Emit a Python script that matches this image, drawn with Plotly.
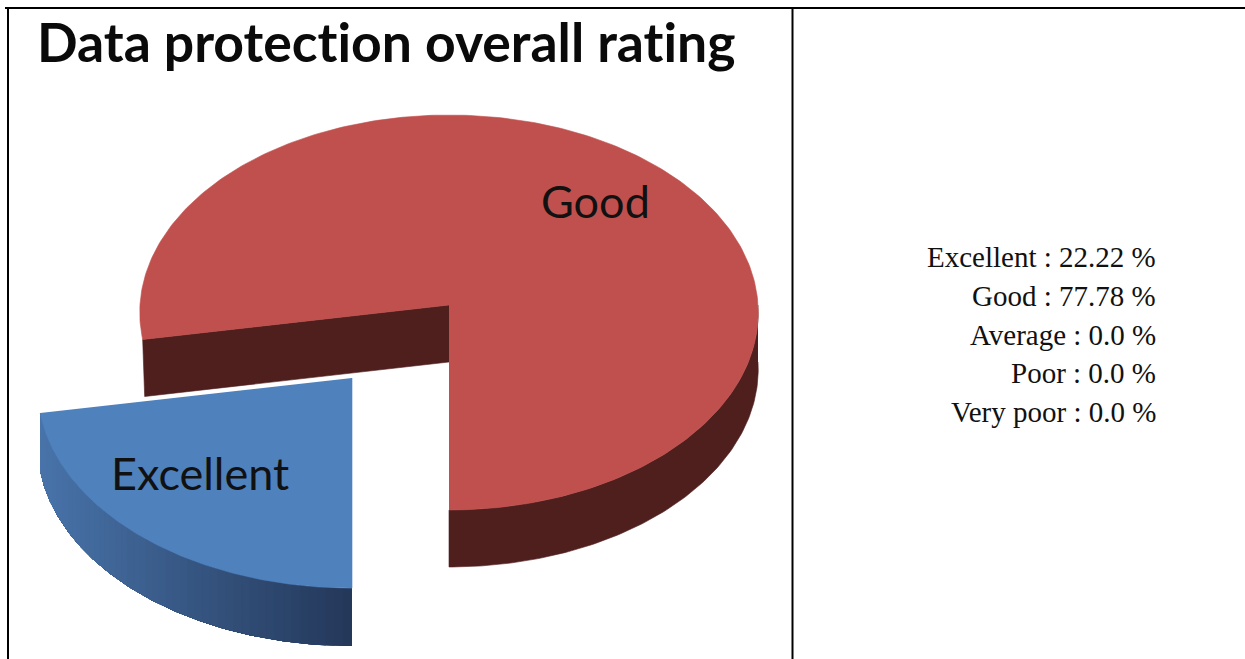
import numpy as np
import plotly.graph_objects as go

# ---- data ----
categories = ["Excellent", "Good", "Average", "Poor", "Very poor"]
percentages = [22.22, 77.78, 0.0, 0.0, 0.0]
title_text = "Data protection overall rating"

W, H = 1245, 659
START_DEG = 180.0            # Excellent starts at six o'clock, clockwise


def rim(theta_deg, apex, r_x, r_y, k):
    """Circle rim seen in slight perspective, measured from the slice apex."""
    t = np.radians(theta_deg)
    w = 1 + k * np.cos(t)
    return apex[0] + r_x * np.sin(t) / w, apex[1] - r_y * np.cos(t) / w


def poly(fig, x, y, color, lw=0.6):
    fig.add_trace(go.Scatter(x=list(x), y=list(y), mode="lines", fill="toself",
                             fillcolor=color, line=dict(color=color, width=lw),
                             hoverinfo="skip", showlegend=False))


def mix(a, b, f):
    return "rgb(%d,%d,%d)" % tuple(round(a[i] + (b[i] - a[i]) * f) for i in range(3))


fig = go.Figure()

span_exc = percentages[0] * 3.6
a0 = START_DEG
a1 = START_DEG + span_exc

# ---- Good slice ----
RAPEX = (449, 305); RX = 309; RY = 197.2; RK = 0.038; DEPTH = 57
red_top, red_dark = "#c0504d", "#4f1f1e"
x, y = rim(np.linspace(a1, 360 + a0, 300), RAPEX, RX, RY, RK)
# outer wall (front-right part)
fx, fy = rim(np.linspace(90, 180, 120), RAPEX, RX, RY, RK)
poly(fig, np.r_[fx, fx[::-1]], np.r_[fy, fy[::-1] + DEPTH], red_dark)
# inner wall of the cut
lx, ly = rim(np.array([a1]), RAPEX, RX, RY, RK)
poly(fig, [RAPEX[0], lx[0], lx[0] + 2, RAPEX[0]],
     [RAPEX[1], ly[0], ly[0] + DEPTH, RAPEX[1] + DEPTH], red_dark)
poly(fig, np.r_[RAPEX[0], x], np.r_[RAPEX[1], y], red_top)

# ---- Excellent slice (pulled out) ----
BAPEX = (352, 378); BX = 314; BY = 200; BK = 0.048; BDEPTH = 58
blue_top = "#4f81bd"
grad_l, grad_r = (72, 116, 170), (36, 56, 90)
bx, by = rim(np.linspace(a0, a1, 160), BAPEX, BX, BY, BK)
# painter's order: each band runs to the far end of the arc, so no seams show
for i in range(0, len(bx) - 1, 3):
    f = (bx[i] - bx.min()) / (bx.max() - bx.min())
    poly(fig, np.r_[bx[i:], bx[i:][::-1]], np.r_[by[i:], by[i:][::-1] + BDEPTH],
         mix(grad_l, grad_r, f), lw=0)
poly(fig, np.r_[BAPEX[0], bx], np.r_[BAPEX[1], by], blue_top)

# ---- table rules ----
rules = [dict(x0=5, x1=W, y0=8, y1=8), dict(x0=8, x1=8, y0=8, y1=H),
         dict(x0=792.5, x1=792.5, y0=8, y1=H)]
shapes = [dict(type="line", xref="x", yref="y", line=dict(color="black", width=2), **r)
          for r in rules]

# ---- texts ----
ann = [
    dict(x=386, y=41, text="<b>%s</b>" % title_text, showarrow=False,
         font=dict(family="Lato", size=53.5, color="#0a0a0a")),
    dict(x=595, y=201, text=categories[1], showarrow=False,
         font=dict(family="Lato", size=45, color="#111111")),
    dict(x=200, y=473, text=categories[0], showarrow=False,
         font=dict(family="Lato", size=45, color="#111111")),
]
for i, (c, p) in enumerate(zip(categories, percentages)):
    ann.append(dict(x=1158, y=257 + i * 38.8, text=f"{c} : {p} %", showarrow=False,
                    xanchor="right",
                    font=dict(family="Liberation Serif", size=29, color="#111111")))

fig.update_layout(
    width=W, height=H, margin=dict(l=0, r=0, t=0, b=0),
    paper_bgcolor="white", plot_bgcolor="white", showlegend=False,
    xaxis=dict(range=[0, W], visible=False, fixedrange=True),
    yaxis=dict(range=[H, 0], visible=False, fixedrange=True),
    shapes=shapes, annotations=ann,
)
fig.write_html("out.html", config=dict(displayModeBar=False),
               post_script="document.body.style.margin='0';document.body.style.overflow='hidden';"
                           "document.head.insertAdjacentHTML('beforeend',"
                           "'<style>svg text, svg tspan{font-variant-ligatures:none !important;"
                           "font-feature-settings:\"liga\" 0, \"clig\" 0 !important;"
                           "text-rendering:optimizeSpeed !important}</style>');")
